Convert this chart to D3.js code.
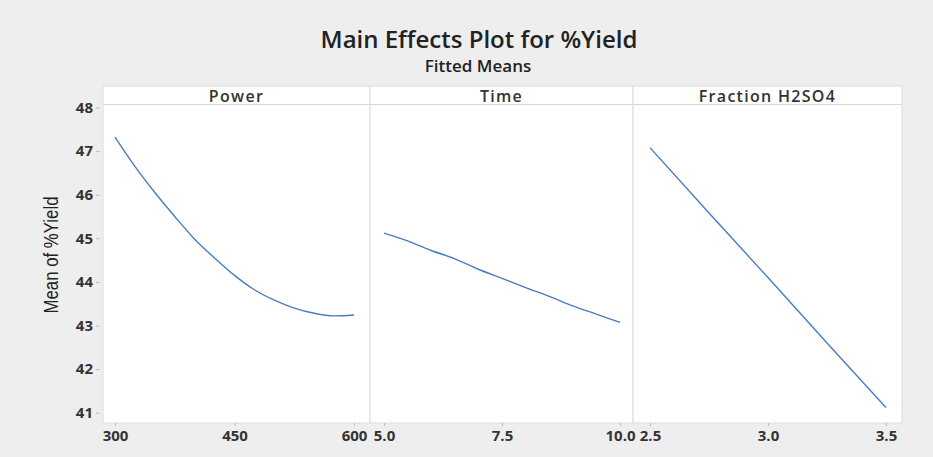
<!DOCTYPE html>
<html>
<head>
<meta charset="utf-8">
<script src="https://cdn.jsdelivr.net/npm/d3@7"></script>
<style>
  html, body { margin: 0; padding: 0; background: #eeeeee; }
  svg { display: block; }
</style>
</head>
<body>
<svg id="chart" width="933" height="457"></svg>
<script>
// ---- data ----
const title = "Main Effects Plot for %Yield";
const subtitle = "Fitted Means";
const yLabel = "Mean of %Yield";
const yTicks = [41, 42, 43, 44, 45, 46, 47, 48];

const factorNames = ["Power", "Time", "Fraction H2SO4"];

const powerLevels = [300, 325, 350, 375, 400, 425, 450, 475, 500, 525, 550, 575, 600];
const powerMeans  = [47.32, 46.65, 46.05, 45.50, 44.98, 44.55, 44.15, 43.82, 43.58, 43.40, 43.28, 43.22, 43.24];
const powerTicks  = [300, 450, 600];

const timeLevels = [5.0, 5.5, 6.0, 6.5, 7.0, 7.5, 8.0, 8.5, 9.0, 9.5, 10.0];
const timeMeans  = [45.12, 44.94, 44.72, 44.53, 44.29, 44.08, 43.87, 43.67, 43.45, 43.26, 43.07];
const timeTicks  = [5.0, 7.5, 10.0];

const fracLevels = [2.5, 2.75, 3.0, 3.25, 3.5];
const fracMeans  = [47.08, 45.58, 44.10, 42.60, 41.12];
const fracTicks  = [2.5, 3.0, 3.5];

// ---- layout ----
const svg = d3.select("#chart");
const panelTop = 86, stripBottom = 104.5, panelBottom = 423;
const panels = [
  { name: factorNames[0], x0: 103, x1: 370, r0: 115, r1: 354, levels: powerLevels, means: powerMeans, ticks: powerTicks, fmt: d3.format("d") },
  { name: factorNames[1], x0: 370, x1: 633, r0: 384, r1: 620, levels: timeLevels,  means: timeMeans,  ticks: timeTicks,  fmt: d3.format(".1f") },
  { name: factorNames[2], x0: 633, x1: 902, r0: 650, r1: 886, levels: fracLevels,  means: fracMeans,  ticks: fracTicks,  fmt: d3.format(".1f") }
];

const y = d3.scaleLinear().domain([41, 48]).range([412.7, 107.5]);

const sans = "'Open Sans', 'Noto Sans', sans-serif";

// Title
svg.append("text")
  .attr("x", 479).attr("y", 48)
  .attr("text-anchor", "middle")
  .style("font-family", sans)
  .style("font-weight", 600)
  .style("font-size", "24px")
  .style("fill", "#222")
  .text(title);
svg.append("text")
  .attr("x", 478).attr("y", 72)
  .attr("text-anchor", "middle")
  .style("font-family", sans)
  .style("font-weight", 600)
  .style("font-size", "17px")
  .style("fill", "#222")
  .text(subtitle);

// Panels
panels.forEach(p => {
  const g = svg.append("g");
  g.append("rect")
    .attr("x", p.x0).attr("y", panelTop)
    .attr("width", p.x1 - p.x0).attr("height", panelBottom - panelTop)
    .attr("fill", "#ffffff")
    .attr("stroke", "#dcdcdc").attr("stroke-width", 1);
  g.append("line")
    .attr("x1", p.x0).attr("x2", p.x1)
    .attr("y1", stripBottom).attr("y2", stripBottom)
    .attr("stroke", "#d6d6d6");
  g.append("text")
    .attr("x", (p.x0 + p.x1) / 2).attr("y", 101.5)
    .attr("text-anchor", "middle")
    .style("font-family", sans)
    .style("font-weight", 600)
    .style("font-size", "16px")
    .style("letter-spacing", "1.3px")
    .style("fill", "#333")
    .text(p.name);

  const x = d3.scaleLinear().domain(d3.extent(p.levels)).range([p.r0, p.r1]);
  const ax = d3.axisBottom(x).tickValues(p.ticks).tickFormat(p.fmt).tickSize(3).tickPadding(4);
  const axg = svg.append("g").attr("transform", `translate(0,${panelBottom})`).call(ax);
  axg.select(".domain").remove();
  axg.selectAll(".tick line").attr("stroke", "#bbb");
  axg.selectAll("text")
    .style("font-family", sans)
    .style("font-weight", 700)
    .style("font-size", "15px")
    .style("fill", "#333");

  const line = d3.line().x((d, i) => x(p.levels[i])).y(d => y(d)).curve(d3.curveMonotoneX);
  g.append("path")
    .datum(p.means)
    .attr("d", line)
    .attr("fill", "none")
    .attr("stroke", "#4a7dbb")
    .attr("stroke-width", 1.4);
});

// Y axis
const ay = d3.axisLeft(y).tickValues(yTicks).tickFormat(d3.format("d")).tickSize(4).tickPadding(3);
const ayg = svg.append("g").attr("transform", "translate(100,0)").call(ay);
ayg.select(".domain").remove();
ayg.selectAll(".tick line").attr("stroke", "#bbb");
ayg.selectAll("text")
  .style("font-family", sans)
  .style("font-weight", 700)
  .style("font-size", "15px")
  .style("fill", "#333");

// Y label (condensed)
svg.append("text")
  .attr("transform", "translate(58,255) rotate(-90) scale(0.84,1)")
  .attr("text-anchor", "middle")
  .style("font-family", "'Liberation Sans', 'Arial', sans-serif")
  .style("font-size", "20px")
  .style("fill", "#222")
  .text(yLabel);
</script>
</body>
</html>
